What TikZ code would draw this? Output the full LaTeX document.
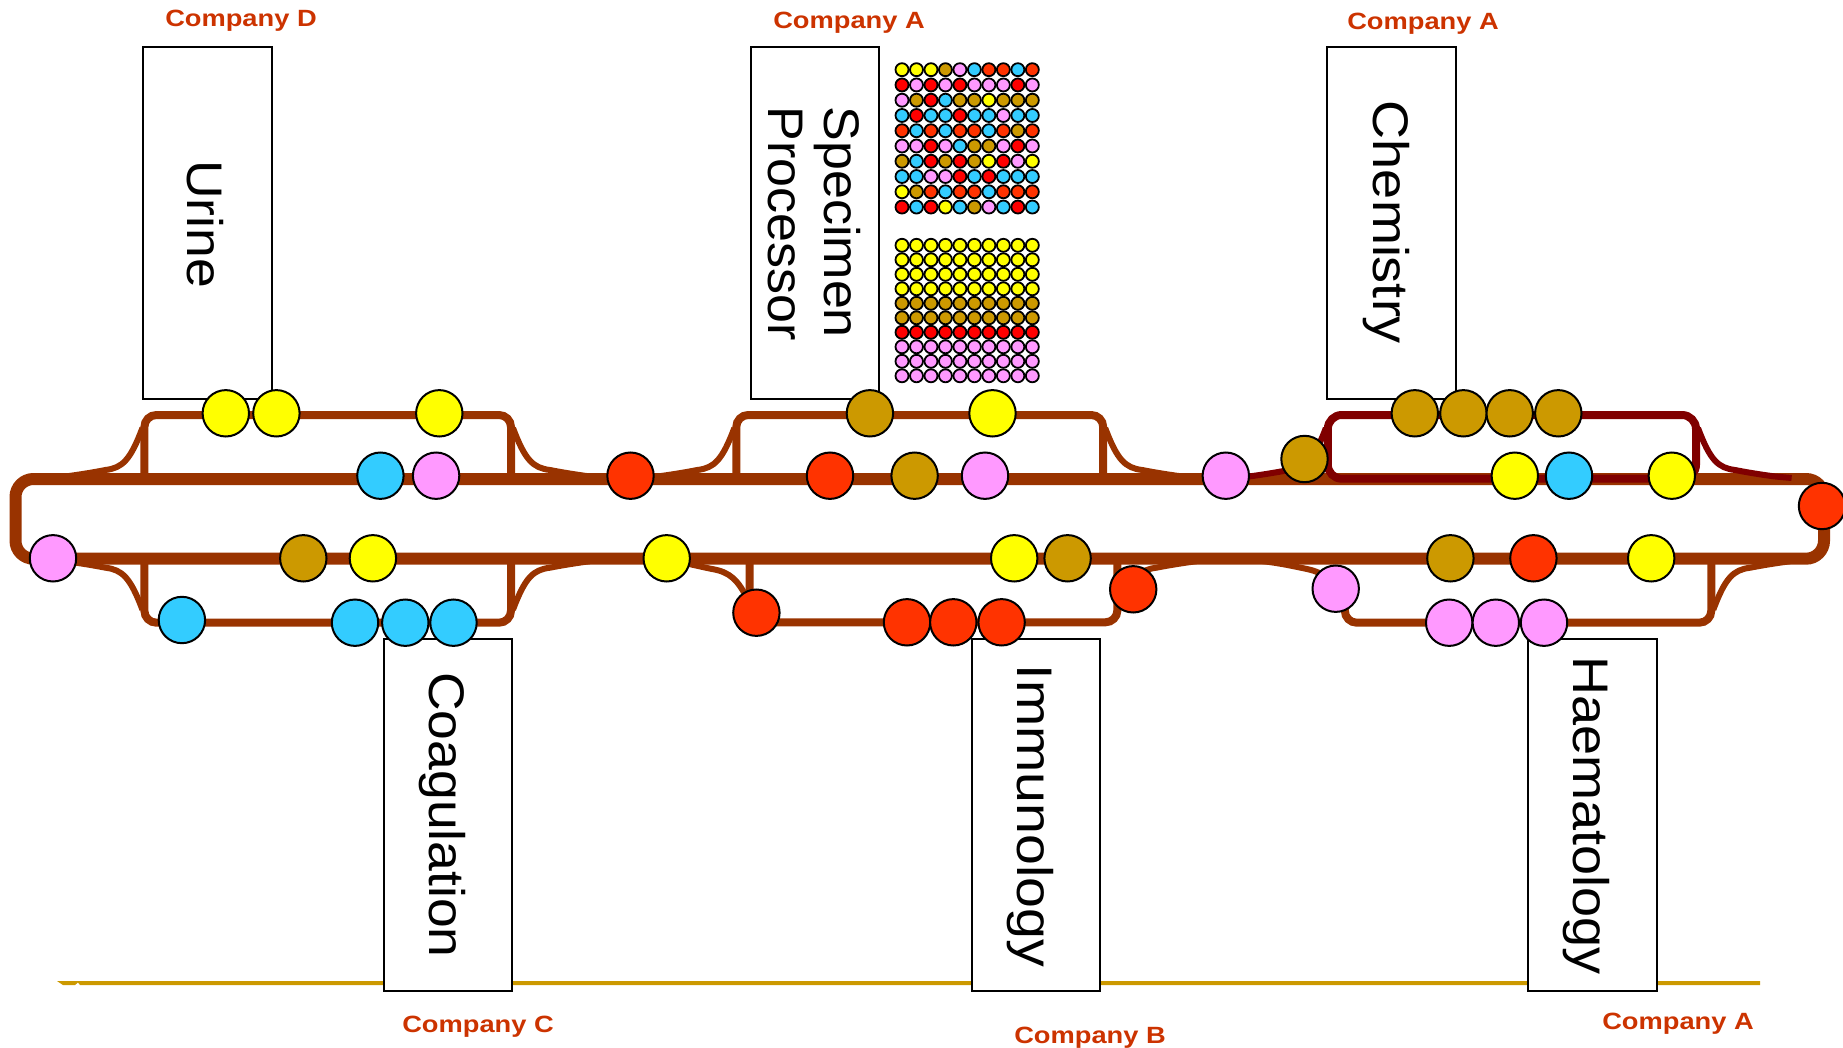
\documentclass[tikz,border=0pt]{standalone}
\usepackage{fontspec}
\setmainfont{Liberation Sans}
\definecolor{track}{HTML}{993300}
\definecolor{dark}{HTML}{800000}
\definecolor{cy}{HTML}{FFFF00}
\definecolor{cb}{HTML}{CC9900}
\definecolor{cp}{HTML}{FF99FF}
\definecolor{cc}{HTML}{33CCFF}
\definecolor{co}{HTML}{FF3300}
\definecolor{cr}{HTML}{FF0000}
\definecolor{corp}{HTML}{CC3300}
\tikzset{
  disc/.style={circle,draw=black,line width=2pt,minimum size=46.4pt,inner sep=0pt},
  tube/.style={circle,draw=black,line width=1.8pt,minimum size=13pt,inner sep=0pt},
  main/.style={draw=track,line width=12pt,rounded corners=18pt},
  branch/.style={draw=track,line width=8pt,rounded corners=12pt},
  spur/.style={draw=track,line width=6pt},
  darkspur/.style={draw=dark,line width=6pt},
  box/.style={draw=black,line width=2pt,fill=white},
  label/.style={rotate=-90,xscale=#1,transform shape,anchor=base,font=\fontsize{50}{56}\selectfont},
  label/.default=1.07,
  corpname/.style={text=corp,font=\bfseries\fontsize{23.5}{26}\selectfont,xscale=1.16,transform shape,inner sep=0pt}
}
% #1 style, #2 x, #3 y, #4 x flip, #5 y flip: a fillet curve from a loop's side into the main line
\newcommand\filletcurve[5]{\draw[#1,shift={(#2,#3)},xscale=#4,yscale=#5]
  (-2,-51) .. controls (-14,-19) and (-22,-11) .. (-39,-9) .. controls (-49,-7) and (-64,-4.5) .. (-79,-2.5);}
\begin{document}
\begin{tikzpicture}[x=1pt,y=-1pt]
\useasboundingbox (0,0) rectangle (1843,1048);
\clip (0,0) rectangle (1843,1048);
% gold rail
\fill[cb] (57,981) -- (1760,981) -- (1760,985) -- (80,985) -- (78,982.5) -- (75,985) -- (63,985) -- cycle;
% boxes
\draw[box] (143.4,47) rectangle (271.6,399.3);
\draw[box] (751.3,47) rectangle (879.4,399.3);
\draw[box] (1327.4,47) rectangle (1455.9,399.3);
\draw[box] (383.5,639) rectangle (511.7,990.7);
\draw[box] (971.5,638.5) rectangle (1099.6,990.7);
\draw[box] (1528.3,639) rectangle (1656.8,990.7);
\node[label] (urine) at (187.3,224) {Urine};
\node[label=1.04,align=left,anchor=base west] (spec) at (768,103) {Specimen\\Processor};
\node[label=1.08] (chem) at (1373,222.5) {Chemistry};
\node[label] (coag) at (429,815) {Coagulation};
\node[label=1.11] (immu) at (1017,816) {Immunology};
\node[label=1.08] (haem) at (1573,815.5) {Haematology};
% main loop
\draw[main] (15.5,479) rectangle (1824,558.7);
% top branches
\draw[branch] (144.4,479) -- (144.4,415) -- (511,415) -- (511,479);
\filletcurve{spur}{144.4}{479}{1}{1}
\filletcurve{spur}{511}{479}{-1}{1}
\draw[branch] (736.3,479) -- (736.3,415) -- (1103.2,415) -- (1103.2,479);
\filletcurve{spur}{736.3}{479}{1}{1}
\filletcurve{spur}{1103.2}{479}{-1}{1}
\filletcurve{darkspur}{1327.8}{479}{1}{1}
\draw[darkspur] (1250,477) -- (1248.8,476.5);
\filletcurve{darkspur}{1696}{479}{-1}{1}
\draw[darkspur] (1775,476.5) -- (1791.6,478);
\draw[draw=dark,line width=8pt,rounded corners=14pt] (1327.8,415) -- (1696,415) -- (1696,478.7) -- (1327.8,478.7) -- cycle;
% bottom branches
\draw[branch] (144.4,558.7) -- (144.4,622.7) -- (511,622.7) -- (511,558.7);
\filletcurve{spur}{144.4}{558.7}{1}{-1}
\filletcurve{spur}{511}{558.7}{-1}{-1}
\draw[branch] (749.7,558.7) -- (749.7,622.3) -- (1117.4,622.3) -- (1117.4,558.7);
\draw[spur] (748,600) .. controls (738,580) and (730,572) .. (712,569) .. controls (702,567) and (690,564) .. (675,561);
\filletcurve{spur}{1117.4}{558.7}{-1}{-1}
\draw[branch] (1344.8,590) -- (1344.8,622.7) -- (1711.3,622.7) -- (1711.3,558.7);
\draw[spur] (1340,600) .. controls (1332,580) and (1325,573) .. (1307,569) .. controls (1297,567) and (1285,564) .. (1262,561);
\filletcurve{spur}{1711.3}{558.7}{-1}{-1}
% discs
\foreach \n/\c/\x/\y in {
 a1/cy/225.8/413.3, a2/cy/276.4/413.3, a3/cy/439.3/413.3,
 a4/cc/380.4/475.7, a5/cp/436.1/475.7, a6/co/630.5/475.7,
 a7/cp/53/558.3, a8/cb/303.3/558.3, a9/cy/372.9/558.3,
 a10/cc/181.9/620, a11/cc/355/622.7, a12/cc/405.3/622.7, a13/cc/453.5/622.7,
 b1/cb/869.9/413.3, b2/cy/992.5/413.3, b3/co/830/475.7, b4/cb/914.6/475.7,
 b5/cp/985/475.7, b6/cp/1225.8/475.7, b7/cy/666.7/558.3, b8/cy/1014.2/558.3,
 b9/cb/1067.6/558.3, b10/co/1133.2/589.3, b11/co/756.4/612.7,
 b12/co/907/622.3, b13/co/953.3/622.3, b14/co/1001.6/622.3,
 c1/cb/1304.5/459, c2/cb/1414.8/413.3, c3/cb/1463.4/413.3, c4/cb/1509.7/413.3,
 c5/cb/1558.3/413.3, c6/cy/1514.8/475.7, c7/cc/1569/475.7, c8/cy/1671.8/475.7,
 c9/co/1822/506, c10/cb/1450.4/558.3, c11/co/1533.4/558.3, c12/cy/1651.2/558.3,
 c13/cp/1335.7/588.7, c14/cp/1449.2/622.7, c15/cp/1495.8/622.7, c16/cp/1544/622.7}
  \node[disc,fill=\c] (\n) at (\x,\y) {};
% upper rack
\foreach \row [count=\j from 0] in {
 {cy,cy,cy,cb,cp,cc,co,co,cc,co},
 {cr,cp,cr,cp,cr,cp,cp,cp,cr,cp},
 {cp,cb,cr,cc,cb,cb,cy,cb,cb,cb},
 {cc,cr,cc,cc,cr,cc,cc,cp,cc,cc},
 {co,cc,co,cc,co,co,cc,co,cb,co},
 {cp,cp,cr,cp,cc,cb,cb,cp,cr,cp},
 {cb,cc,cr,cb,cr,cb,cy,cr,cp,cy},
 {cc,cc,cp,cp,cr,cc,cr,cc,cc,cc},
 {cy,cb,co,cc,co,co,cc,co,co,co},
 {cr,cc,cr,cy,cc,cb,cp,cc,cr,cc}}
  \foreach \c [count=\i from 0] in \row
    \node[tube,fill=\c] (u\j-\i) at ({902+14.48*\i},{69.7+15.26*\j}) {};
% lower rack
\foreach \c [count=\j from 0] in {cy,cy,cy,cy,cb,cb,cr,cp,cp,cp}
  \foreach \i in {0,...,9}
    \node[tube,fill=\c] (l\j-\i) at ({902+14.48*\i},{245.3+14.5*\j}) {};
% company names
\node[corpname] (cd) at (241,20.5) {Company D};
\node[corpname] (ca1) at (849,22.5) {Company A};
\node[corpname] (ca2) at (1423,24) {Company A};
\node[corpname] (cc0) at (478,1026.5) {Company C};
\node[corpname] (cb0) at (1090,1038) {Company B};
\node[corpname] (ca3) at (1678,1023.5) {Company A};
\end{tikzpicture}
\end{document}
